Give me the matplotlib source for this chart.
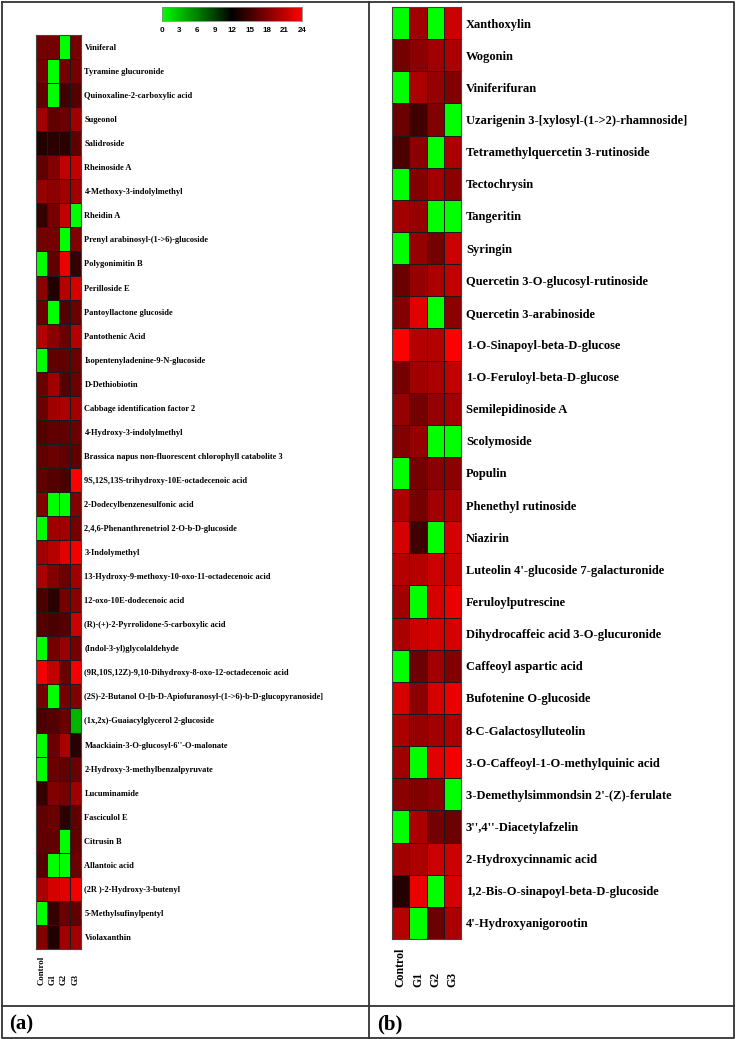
import matplotlib
matplotlib.use("Agg")
import matplotlib.pyplot as plt
import numpy as np
from matplotlib.colors import LinearSegmentedColormap

W, H = 739, 1039

groups = ["Control", "G1", "G2", "G3"]

labels_a = [
    "Viniferal", "Tyramine glucuronide", "Quinoxaline-2-carboxylic acid", "Sugeonol",
    "Salidroside", "Rheinoside A", "4-Methoxy-3-indolylmethyl", "Rheidin A",
    "Prenyl arabinosyl-(1->6)-glucoside", "Polygonimitin B", "Perilloside E",
    "Pantoyllactone glucoside", "Pantothenic Acid", "Isopentenyladenine-9-N-glucoside",
    "D-Dethiobiotin", "Cabbage identification factor 2", "4-Hydroxy-3-indolylmethyl",
    "Brassica napus non-fluorescent chlorophyll catabolite 3",
    "9S,12S,13S-trihydroxy-10E-octadecenoic acid", "2-Dodecylbenzenesulfonic acid",
    "2,4,6-Phenanthrenetriol 2-O-b-D-glucoside", "3-Indolymethyl",
    "13-Hydroxy-9-methoxy-10-oxo-11-octadecenoic acid", "12-oxo-10E-dodecenoic acid",
    "(R)-(+)-2-Pyrrolidone-5-carboxylic acid", "(Indol-3-yl)glycolaldehyde",
    "(9R,10S,12Z)-9,10-Dihydroxy-8-oxo-12-octadecenoic acid",
    "(2S)-2-Butanol O-[b-D-Apiofuranosyl-(1->6)-b-D-glucopyranoside]",
    "(1x,2x)-Guaiacylglycerol 2-glucoside", "Maackiain-3-O-glucosyl-6''-O-malonate",
    "2-Hydroxy-3-methylbenzalpyruvate", "Lucuminamide", "Fasciculol E", "Citrusin B",
    "Allantoic acid", "(2R )-2-Hydroxy-3-butenyl", "5-Methylsufinylpentyl", "Violaxanthin",
]

values_a = [
    [17.5, 17.5, 0, 17.5],
    [17.5, 0, 17.5, 17.5],
    [16.5, 0, 15, 16],
    [19.5, 16.5, 17, 19.5],
    [13.5, 14, 14, 16.5],
    [16.5, 18, 21, 21],
    [19, 18.5, 19.5, 19.5],
    [14.5, 17.5, 21, 0],
    [17.5, 17.5, 0, 18],
    [0, 16.5, 23, 14.5],
    [18.5, 13.5, 20.5, 22],
    [17, 0, 16, 17],
    [20.5, 18.5, 17, 20.5],
    [0, 16.5, 16.5, 17],
    [17, 19.5, 16, 17],
    [17, 19.5, 20, 19.5],
    [16, 16.5, 16.5, 17],
    [16.5, 17, 16.5, 16.5],
    [16.5, 16, 15.5, 24],
    [18, 0, 0, 18],
    [0, 19.5, 19.5, 17.5],
    [19.5, 20.5, 22.5, 23.5],
    [20, 18, 17, 19.5],
    [15.5, 14, 17.5, 18.5],
    [16, 15.5, 16, 21.5],
    [0, 17.5, 19, 17.5],
    [23.5, 21, 17, 23.5],
    [17.5, 0, 17.5, 18],
    [15.5, 16, 17, 3.5],
    [0, 17, 20, 14],
    [0, 17, 16.5, 17],
    [14.5, 18, 17.5, 19.5],
    [16.5, 17, 14, 16.5],
    [16.5, 16.5, 0, 16.5],
    [16, 0, 0, 17],
    [20, 22, 22.5, 23.5],
    [0, 14.5, 17, 16.5],
    [18, 13.5, 19.5, 19.5],
]

labels_b = [
    "Xanthoxylin", "Wogonin", "Viniferifuran", "Uzarigenin 3-[xylosyl-(1->2)-rhamnoside]",
    "Tetramethylquercetin 3-rutinoside", "Tectochrysin", "Tangeritin", "Syringin",
    "Quercetin 3-O-glucosyl-rutinoside", "Quercetin 3-arabinoside",
    "1-O-Sinapoyl-beta-D-glucose", "1-O-Feruloyl-beta-D-glucose", "Semilepidinoside A",
    "Scolymoside", "Populin", "Phenethyl rutinoside", "Niazirin",
    "Luteolin 4'-glucoside 7-galacturonide", "Feruloylputrescine",
    "Dihydrocaffeic acid 3-O-glucuronide", "Caffeoyl aspartic acid",
    "Bufotenine O-glucoside", "8-C-Galactosylluteolin",
    "3-O-Caffeoyl-1-O-methylquinic acid", "3-Demethylsimmondsin 2'-(Z)-ferulate",
    "3'',4''-Diacetylafzelin", "2-Hydroxycinnamic acid",
    "1,2-Bis-O-sinapoyl-beta-D-glucoside", "4'-Hydroxyanigorootin",
]

values_b = [
    [0, 19.5, 0, 21.5],
    [17.5, 18.5, 19.5, 20],
    [0, 20, 19, 18],
    [17, 15, 18, 0],
    [15.5, 18.5, 0, 20],
    [0, 18, 19.5, 18.5],
    [19.5, 19, 0, 0],
    [0, 19, 17.5, 21.5],
    [17, 19, 20, 21],
    [18, 22.5, 0, 18.5],
    [24, 20.5, 20.5, 24],
    [17.5, 19.5, 20, 21],
    [19, 17.5, 19, 19.5],
    [18, 19, 0, 0],
    [0, 17.5, 18.5, 18.5],
    [20, 17.5, 19.5, 20],
    [22, 15, 0, 22],
    [20.5, 20.5, 21.5, 21.5],
    [19.5, 0, 22, 23],
    [20, 21.5, 22, 22],
    [0, 17, 19.5, 18],
    [22, 18.5, 22, 23],
    [20, 19, 19.5, 20],
    [19.5, 0, 22.5, 23.5],
    [18.5, 18, 18.5, 0],
    [0, 20, 17.5, 17],
    [19.5, 20, 21.5, 21.5],
    [13.5, 23, 0, 22],
    [20.5, 0, 17, 20],
]

cbar_ticks = [0, 3, 6, 9, 12, 15, 18, 21, 24]

cmap = LinearSegmentedColormap.from_list("gkr", ["#00ff00", "#000000", "#ff0000"])
VMIN, VMAX = 0, 24

fig = plt.figure(figsize=(W / 100, H / 100), dpi=100)
fig.patch.set_facecolor("white")


def px_axes(x0, y0, x1, y1):
    return fig.add_axes([x0 / W, 1 - y1 / H, (x1 - x0) / W, (y1 - y0) / H])


# frame overlay
frame = px_axes(0, 0, W, H)
frame.set_xlim(0, W)
frame.set_ylim(H, 0)
frame.axis("off")
lc = "#333333"
lw = 1.3
frame.plot([1.5, 734, 734, 1.5, 1.5], [1.5, 1.5, 1037.5, 1037.5, 1.5], color=lc, lw=lw)
frame.plot([368.5, 368.5], [1.5, 1037.5], color=lc, lw=lw)
frame.plot([1.5, 734], [1006, 1006], color=lc, lw=lw)
frame.text(9, 1024, "(a)", fontsize=15, fontweight="bold", family="Liberation Serif",
           ha="left", va="center")
frame.text(377, 1024, "(b)", fontsize=15, fontweight="bold", family="Liberation Serif",
           ha="left", va="center")


def heat(ax, vals, labels, fs, pad, xfs, xlab_px):
    arr = np.array(vals, dtype=float)
    n = arr.shape[0]
    ax.pcolormesh(np.arange(5), np.arange(n + 1), arr, cmap=cmap, vmin=VMIN, vmax=VMAX,
                  edgecolors="#1a1a1a", linewidth=0.5)
    ax.set_xlim(0, 4)
    ax.set_ylim(n, 0)
    ax.yaxis.tick_right()
    ax.set_yticks(np.arange(n) + 0.5)
    ax.set_yticklabels(labels, fontsize=fs, fontweight="bold", family="Liberation Serif")
    ax.set_xticks([])
    ax.tick_params(axis="y", length=0, pad=pad)
    # column labels: rotated, starting at a common baseline below the map
    hpx = ax.get_position().height * H
    for i, g in enumerate(groups):
        ax.text(i + 0.5, -xlab_px / hpx, g, rotation=90, ha="center", va="bottom",
                fontsize=xfs, fontweight="bold", family="Liberation Serif",
                transform=ax.get_xaxis_transform(), clip_on=False)
    for s in ax.spines.values():
        s.set_color("#444444")
        s.set_linewidth(0.8)


ax_a = px_axes(36, 35, 81, 949)
heat(ax_a, values_a, labels_a, 6.0, 2.5, 6.3, 36)

ax_b = px_axes(392, 7, 461, 939)
heat(ax_b, values_b, labels_b, 9, 3.5, 8.5, 48)

# colorbar
cax = px_axes(162, 7, 302, 21)
grad = np.linspace(VMIN, VMAX, 256).reshape(1, -1)
cax.imshow(grad, cmap=cmap, vmin=VMIN, vmax=VMAX, aspect="auto",
           extent=[VMIN, VMAX, 0, 1])
cax.set_yticks([])
cax.set_xticks(cbar_ticks)
cax.set_xticklabels([str(t) for t in cbar_ticks], fontsize=5.8, fontweight="bold",
                    family="Liberation Sans")
cax.tick_params(axis="x", length=0, pad=4)
for s in cax.spines.values():
    s.set_color("#888888")
    s.set_linewidth(0.6)

fig.savefig("out.png", dpi=100, facecolor="white")
